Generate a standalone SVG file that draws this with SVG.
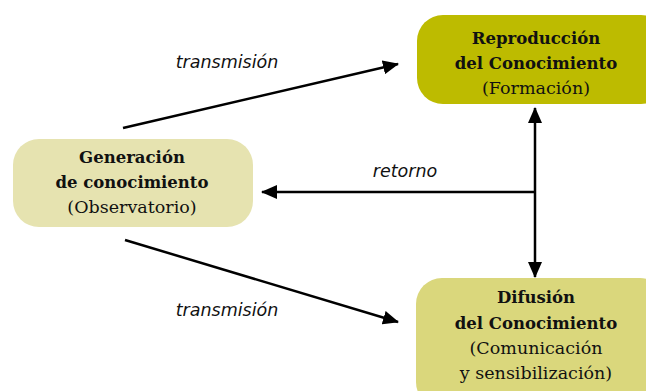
<svg xmlns="http://www.w3.org/2000/svg" width="646" height="391" viewBox="0 0 646 391">
<style>
.t{font-family:"DejaVu Serif","Liberation Serif",serif;font-size:17.5px;fill:#111;text-anchor:middle}
.b{font-weight:bold;font-size:16.5px}
.lbl{font-family:"DejaVu Sans","Liberation Sans",sans-serif;font-style:italic;font-weight:500;font-size:17.5px;fill:#111;text-anchor:middle}
.c{stroke:#000;stroke-width:2.5;fill:none}
</style>
<defs>
<marker id="ahb" markerWidth="16" markerHeight="14" refX="15" refY="7" orient="auto-start-reverse" markerUnits="userSpaceOnUse" viewBox="0 0 16 14">
<path d="M0,0 L16,7 L0,14 z" fill="#000"/>
</marker>
</defs>
<rect width="646" height="391" fill="#fff"/>
<g id="connectors">
<line class="c" x1="123" y1="128" x2="398" y2="64" marker-end="url(#ahb)"/>
<line class="c" x1="125" y1="240" x2="398" y2="322" marker-end="url(#ahb)"/>
<line class="c" x1="535" y1="108" x2="535" y2="277" marker-start="url(#ahb)" marker-end="url(#ahb)"/>
<line class="c" x1="535" y1="192" x2="262" y2="192" marker-end="url(#ahb)"/>
<text class="lbl" x="227" y="68">transmisión</text>
<text class="lbl" x="227" y="316">transmisión</text>
<text class="lbl" x="405" y="177">retorno</text>
</g>
<g id="reproduccion">
<rect x="417" y="15" width="250" height="89" rx="26" fill="#bdbb00"/>
<text class="t b" x="536" y="44">Reproducción</text>
<text class="t b" x="536" y="69">del Conocimiento</text>
<text class="t" x="536" y="94">(Formación)</text>
</g>
<g id="generacion">
<rect x="13" y="139" width="240" height="88" rx="26" fill="#e6e3b0"/>
<text class="t b" x="132" y="163">Generación</text>
<text class="t b" x="132" y="188">de conocimiento</text>
<text class="t" x="132" y="213">(Observatorio)</text>
</g>
<g id="difusion">
<rect x="416" y="278" width="250" height="130" rx="26" fill="#dad77c"/>
<text class="t b" x="536" y="303">Difusión</text>
<text class="t b" x="536" y="329">del Conocimiento</text>
<text class="t" x="536" y="354">(Comunicación</text>
<text class="t" x="536" y="379">y sensibilización)</text>
</g>
</svg>
